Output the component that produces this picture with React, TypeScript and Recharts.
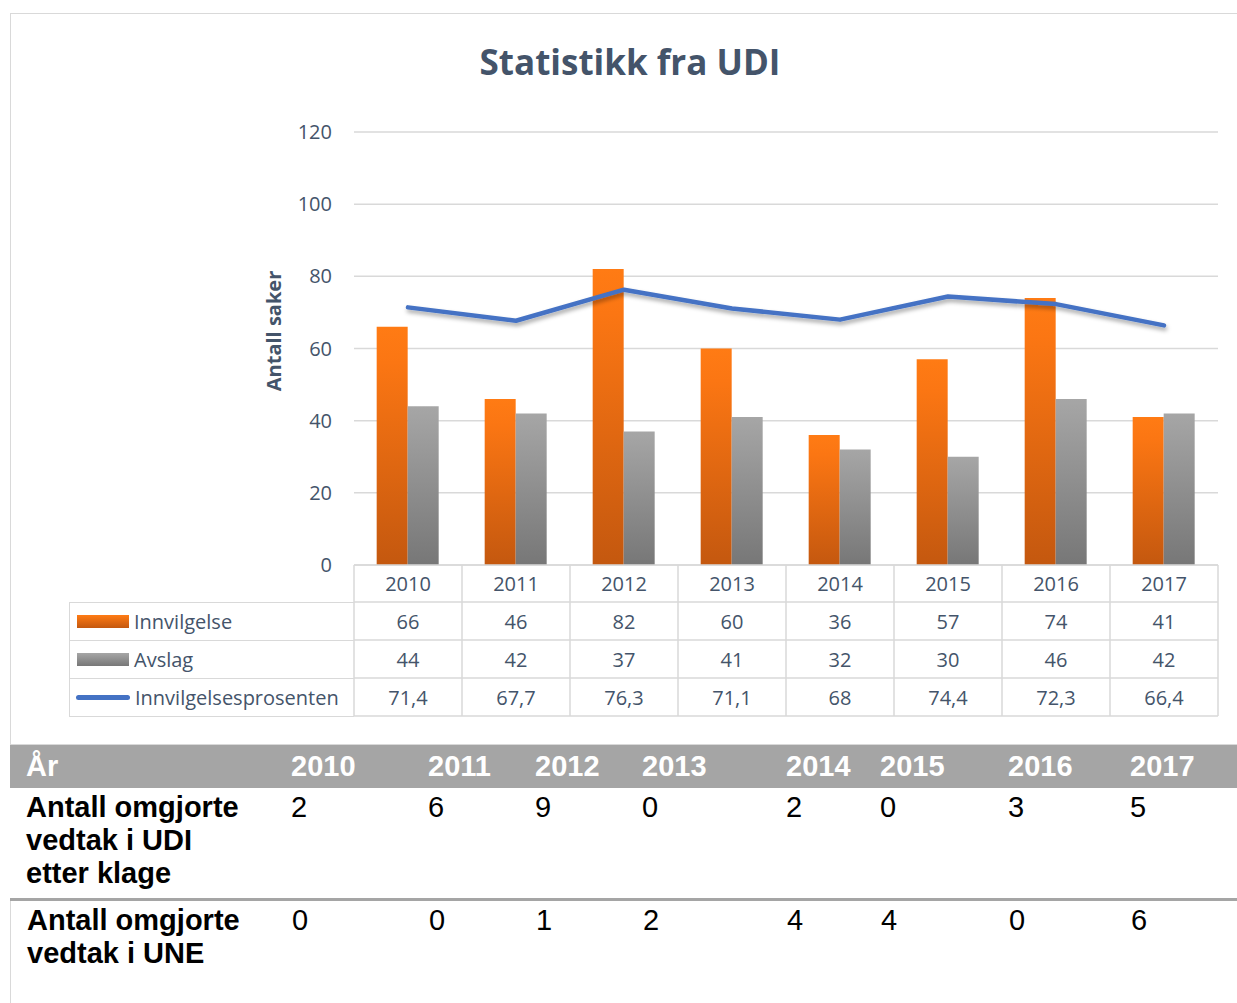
import { Bar, ComposedChart, CartesianGrid, Legend, Line, XAxis, YAxis } from 'recharts';

const years = ['2010', '2011', '2012', '2013', '2014', '2015', '2016', '2017'];
const innvilgelse = [66, 46, 82, 60, 36, 57, 74, 41];
const avslag = [44, 42, 37, 41, 32, 30, 46, 42];
const prosent = [71.4, 67.7, 76.3, 71.1, 68, 74.4, 72.3, 66.4];
const yTicks = [0, 20, 40, 60, 80, 100, 120];

const omgjorteUdi = [2, 6, 9, 0, 2, 0, 3, 5];
const omgjorteUne = [0, 0, 1, 2, 4, 4, 0, 6];

const chartData = years.map((year, i) => ({
  year,
  innvilgelse: innvilgelse[i],
  avslag: avslag[i],
  prosent: prosent[i],
}));

const seriesOrder = ['innvilgelse', 'avslag', 'prosent'];

const W = 1237;
const H = 745;
const MARGIN = { top: 132, right: 19, bottom: 29, left: 294 };
const PLOT_W = W - MARGIN.left - 60 - MARGIN.right;
const ROW_H = [37, 38, 38, 38];
const GRID = '#d9d9d9';
const TEXT = '#44546a';
const FONT = '"Open Sans", sans-serif';

const fmt = (v: number) => String(v).replace('.', ',');

// data table under the plot, one column per category tick
const TableTick = (props: any) => {
  const { x, y, index } = props;
  const band = PLOT_W / years.length;
  const left = x - band / 2;
  const cells = [years[index], fmt(innvilgelse[index]), fmt(avslag[index]), fmt(prosent[index])];
  let top = y;
  const out: any[] = [];
  cells.forEach((c, r) => {
    out.push(
      <text key={'t' + r} x={x} y={top + ROW_H[r] / 2} textAnchor="middle" dominantBaseline="central"
        fill={TEXT} fontSize={20} fontFamily={FONT}>{c}</text>
    );
    out.push(<line key={'h' + r} x1={left} x2={left + band} y1={top} y2={top} stroke={GRID} strokeWidth={1.5} />);
    top += ROW_H[r];
  });
  out.push(<line key="hb" x1={left} x2={left + band} y1={top} y2={top} stroke={GRID} strokeWidth={1.5} />);
  out.push(<line key="vl" x1={left} x2={left} y1={y} y2={top} stroke={GRID} strokeWidth={1.5} />);
  if (index === years.length - 1) {
    out.push(<line key="vr" x1={left + band} x2={left + band} y1={y} y2={top} stroke={GRID} strokeWidth={1.5} />);
  }
  return <g>{out}</g>;
};

const LegendTable = ({ payload }: any) => {
  const items = [...(payload || [])].sort(
    (a: any, b: any) => seriesOrder.indexOf(a.dataKey) - seriesOrder.indexOf(b.dataKey)
  );
  return (
    <div style={{ width: 285, border: `1.5px solid ${GRID}`, borderRight: 'none', boxSizing: 'border-box', fontFamily: FONT }}>
      {items.map((entry: any, i: number) => (
        <div key={entry.value} style={{
          height: i === 0 ? 37 : 38, display: 'flex', alignItems: 'center',
          borderTop: i > 0 ? `1.5px solid ${GRID}` : 'none', boxSizing: 'border-box',
        }}>
          {entry.dataKey === 'prosent' ? (
            <div style={{ marginLeft: 6, width: 54, height: 5, borderRadius: 3, background: '#4472c4' }} />
          ) : (
            <div style={{
              marginLeft: 7, width: 52, height: 13,
              background: entry.dataKey === 'innvilgelse'
                ? 'linear-gradient(#ff7b14, #c4580f)'
                : 'linear-gradient(#a6a6a6, #777777)',
            }} />
          )}
          <span style={{ marginLeft: 5, fontSize: 20, color: TEXT }}>{entry.value}</span>
        </div>
      ))}
    </div>
  );
};

const bottomCols = '265px 137px 107px 107px 144px 94px 128px 122px 1fr';
const cellStyle = { paddingLeft: 16 };
const labelStyle = { paddingLeft: 16, paddingRight: 18, fontWeight: 700 };

const App = () => {
  return (
    <div style={{ position: 'absolute', left: 0, top: 0, width: W, height: 1003, background: '#fff', overflow: 'hidden' }}>
      <div style={{ position: 'absolute', left: 10, top: 13, width: W, height: 732, border: `1px solid ${GRID}`, boxSizing: 'border-box' }} />
      <div style={{
        position: 'absolute', left: 10, width: 1240, top: 40, textAlign: 'center',
        fontFamily: FONT, fontWeight: 700, fontSize: 35, color: TEXT, lineHeight: '44px',
      }}>Statistikk fra UDI</div>
      <div style={{ position: 'absolute', left: 0, top: 0 }}>
        <ComposedChart width={W} height={H} data={chartData} margin={MARGIN} barCategoryGap="21%" barGap={0}>
          <defs>
            <linearGradient id="gradOrange" x1="0" y1="0" x2="0" y2="1">
              <stop offset="0%" stopColor="#ff7b14" />
              <stop offset="15%" stopColor="#fb7613" />
              <stop offset="100%" stopColor="#c4580f" />
            </linearGradient>
            <linearGradient id="gradGray" x1="0" y1="0" x2="0" y2="1">
              <stop offset="0%" stopColor="#a6a6a6" />
              <stop offset="100%" stopColor="#777777" />
            </linearGradient>
            <filter id="lineShadow" x="-5%" y="-50%" width="110%" height="200%">
              <feDropShadow dx="1" dy="3" stdDeviation="2" floodColor="#000" floodOpacity="0.35" />
            </filter>
          </defs>
          <CartesianGrid vertical={false} stroke={GRID} strokeWidth={1.5} />
          <XAxis dataKey="year" height={151} axisLine={false} tickLine={false} tickSize={0} tickMargin={0}
            interval={0} tick={<TableTick />} />
          <YAxis width={60} domain={[0, 120]} ticks={yTicks} axisLine={false} tickLine={false} tickSize={0}
            tickMargin={22} tick={{ fill: TEXT, fontSize: 20, fontFamily: FONT }}
            label={{
              content: () => (
                <text x={273} y={331} transform="rotate(-90, 273, 331)" textAnchor="middle" dominantBaseline="central"
                  fill={TEXT} fontSize={20} fontWeight={700} fontFamily={FONT}>Antall saker</text>
              ),
            }} />
          <Legend layout="vertical" align="center" verticalAlign="middle"
            wrapperStyle={{ left: 69, top: 602, width: 285, height: 114 }} content={<LegendTable />} />
          <Bar dataKey="innvilgelse" name="Innvilgelse" fill="url(#gradOrange)" isAnimationActive={false} />
          <Bar dataKey="avslag" name="Avslag" fill="url(#gradGray)" isAnimationActive={false} />
          <Line dataKey="prosent" name="Innvilgelsesprosenten" type="linear" stroke="#4472c4" strokeWidth={4.5}
            strokeLinecap="round" strokeLinejoin="round" dot={false} activeDot={false}
            filter="url(#lineShadow)" isAnimationActive={false} />
        </ComposedChart>
      </div>
      <div style={{ position: 'absolute', left: 10, top: 745, width: W - 10, fontFamily: '"Liberation Sans", Arial, sans-serif' }}>
        <div style={{
          display: 'grid', gridTemplateColumns: bottomCols, background: '#a5a5a5', color: '#fff',
          fontWeight: 700, fontSize: 29, height: 43, alignItems: 'center',
        }}>
          <div style={cellStyle}>År</div>
          {years.map((y) => <div key={y} style={cellStyle}>{y}</div>)}
        </div>
        <div style={{
          display: 'grid', gridTemplateColumns: bottomCols, fontSize: 29, lineHeight: '33px', color: '#000',
          height: 113, paddingTop: 3, boxSizing: 'border-box', borderBottom: '3px solid #a5a5a5',
        }}>
          <div style={labelStyle}>Antall omgjorte vedtak i UDI etter klage</div>
          {omgjorteUdi.map((v, i) => <div key={i} style={cellStyle}>{v}</div>)}
        </div>
        <div style={{
          display: 'grid', gridTemplateColumns: bottomCols, fontSize: 29, lineHeight: '33px', color: '#000',
          height: 110, paddingTop: 3, boxSizing: 'border-box', borderLeft: `1px solid ${GRID}`,
        }}>
          <div style={labelStyle}>Antall omgjorte vedtak i UNE</div>
          {omgjorteUne.map((v, i) => <div key={i} style={cellStyle}>{v}</div>)}
        </div>
      </div>
    </div>
  );
};

export default App;
